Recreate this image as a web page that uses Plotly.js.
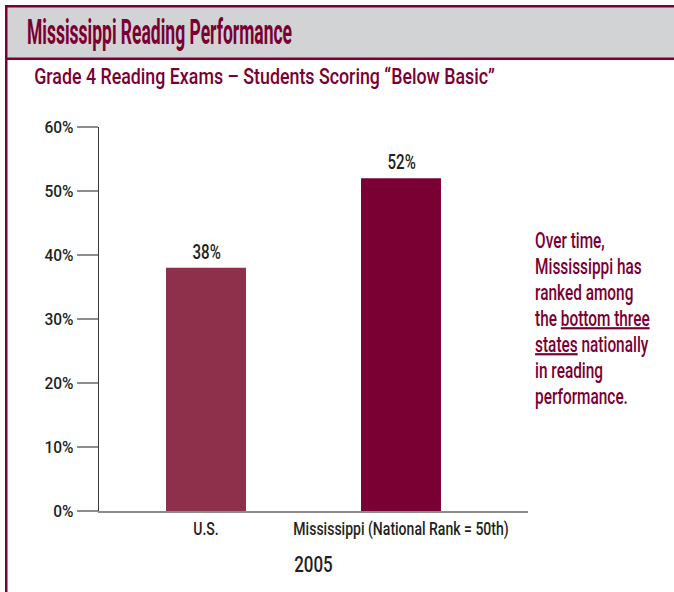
<!DOCTYPE html>
<html>
<head>
<meta charset="utf-8">
<script src="https://cdn.plot.ly/plotly-3.0.1.min.js"></script>
<style>
  html, body { margin: 0; padding: 0; background: #fff; }
  #chart { width: 674px; height: 592px; }
</style>
</head>
<body>
<div id="chart"></div>
<script>
// ---- data ----
const categories = ['U.S.', 'Mississippi (National Rank = 50th)'];
const values = [38, 52];
const yTickVals = [0, 10, 20, 30, 40, 50, 60];
const yTickText = ['0%', '10%', '20%', '30%', '40%', '50%', '60%'];
const xTitleText = '2005';
const chartTitle = 'Mississippi Reading Performance';
const chartSubtitle = 'Grade 4 Reading Exams \u2013 Students Scoring \u201cBelow Basic\u201d';
const noteLines = [
  'Over time,',
  'Mississippi has',
  'ranked among',
  'the <span style="text-decoration:underline">bottom three</span>',
  '<span style="text-decoration:underline">states</span> nationally',
  'in reading',
  'performance.'
];

// ---- style ----
const MAROON = '#7A0033';
const INK = '#231F20';
const barColors = ['#8E2F4C', '#7A0033'];
const FONT = 'Roboto, "Liberation Sans", Arial, sans-serif';
const W = 674, H = 592;
const M = { l: 99, r: 146, t: 127, b: 81 };
const pw = W - M.l - M.r, ph = H - M.t - M.b;
const px = X => (X - M.l) / pw;
const py = Y => (H - M.b - Y) / ph;

// horizontal condensing per text role (reference uses a condensed face)
const CONDENSE = { title: 0.5, subtitle: 0.81, note: 0.7, barLabel: 0.72, xtick: 0.78, ytick: 0.97, xtitle: 0.77 };

const shapes = [
  { type: 'rect', xref: 'paper', yref: 'paper', x0: px(6), x1: px(680), y0: py(58), y1: py(6), fillcolor: '#D1D3D4', line: { width: 0 }, layer: 'below' },
  { type: 'rect', xref: 'paper', yref: 'paper', x0: px(5), x1: px(680), y0: py(7.5), y1: py(5), fillcolor: MAROON, line: { width: 0 }, layer: 'below' },
  { type: 'rect', xref: 'paper', yref: 'paper', x0: px(5), x1: px(680), y0: py(60), y1: py(57.5), fillcolor: MAROON, line: { width: 0 }, layer: 'below' },
  { type: 'rect', xref: 'paper', yref: 'paper', x0: px(5), x1: px(7.5), y0: py(600), y1: py(5), fillcolor: MAROON, line: { width: 0 }, layer: 'below' }
];

const annotations = [];
const roles = [];
function addAnn(a, role) { annotations.push(a); roles.push(role); }

addAnn({ xref: 'paper', yref: 'paper', x: px(25), y: py(33), xanchor: 'left', yanchor: 'middle', showarrow: false,
  text: chartTitle, font: { family: FONT, size: 35, weight: 700, color: MAROON } }, ['title', 'left']);
addAnn({ xref: 'paper', yref: 'paper', x: px(32), y: py(76), xanchor: 'left', yanchor: 'middle', showarrow: false,
  text: chartSubtitle, font: { family: FONT, size: 22, weight: 500, color: MAROON } }, ['subtitle', 'left']);
noteLines.forEach((t, i) => {
  addAnn({ xref: 'paper', yref: 'paper', x: px(533), y: py(240 + i * 26), xanchor: 'left', yanchor: 'middle',
    showarrow: false, text: t, font: { family: FONT, size: 22, weight: 500, color: MAROON } }, ['note', 'left']);
});
values.forEach((v, i) => {
  addAnn({ x: categories[i], y: v, xref: 'x', yref: 'y', yanchor: 'bottom', yshift: 2, showarrow: false,
    text: v + '%', font: { family: FONT, size: 21, weight: 500, color: INK } }, ['barLabel', 'center']);
});

const trace = {
  type: 'bar', x: categories, y: values, width: 0.41,
  marker: { color: barColors, line: { width: 0 } },
  hoverinfo: 'skip'
};

const layout = {
  width: W, height: H, margin: M,
  paper_bgcolor: '#fff', plot_bgcolor: '#fff',
  showlegend: false,
  font: { family: FONT, color: INK },
  xaxis: {
    range: [-0.5487, 1.6513], showgrid: false, zeroline: false,
    showline: true, linecolor: '#8C8C8C', linewidth: 2,
    ticks: '', tickfont: { family: FONT, size: 18, weight: 500, color: INK },
    title: { text: xTitleText, font: { family: FONT, size: 22, weight: 500, color: INK }, standoff: 18 },
    fixedrange: true
  },
  yaxis: {
    range: [0, 60], tickvals: yTickVals, ticktext: yTickText,
    showgrid: false, zeroline: false,
    showline: true, linecolor: '#3A3A3A', linewidth: 1.3,
    ticks: 'outside', ticklen: 21, tickwidth: 2, tickcolor: '#8C8C8C',
    tickfont: { family: FONT, size: 16, weight: 500, color: INK },
    fixedrange: true
  },
  shapes: shapes,
  annotations: annotations
};

function condense(el, s, anchor) {
  const b = el.getBBox();
  const ax = anchor === 'left' ? b.x : anchor === 'right' ? b.x + b.width : b.x + b.width / 2;
  const prev = el.getAttribute('transform') || '';
  el.setAttribute('transform', prev + ' translate(' + ax + ',0) scale(' + s + ',1) translate(' + (-ax) + ',0)');
}

Plotly.newPlot('chart', [trace], layout, { displayModeBar: false, staticPlot: true }).then(gd => {
  gd.querySelectorAll('.infolayer g.annotation').forEach(g => {
    const i = +g.getAttribute('data-index');
    const r = roles[i];
    if (!r) return;
    g.querySelectorAll('text.annotation-text').forEach(t => condense(t, CONDENSE[r[0]], r[1]));
  });
  gd.querySelectorAll('.xtick text').forEach(t => condense(t, CONDENSE.xtick, 'center'));
  gd.querySelectorAll('.ytick text').forEach(t => condense(t, CONDENSE.ytick, 'right'));
  gd.querySelectorAll('.g-xtitle text').forEach(t => condense(t, CONDENSE.xtitle, 'center'));
});
</script>
</body>
</html>
